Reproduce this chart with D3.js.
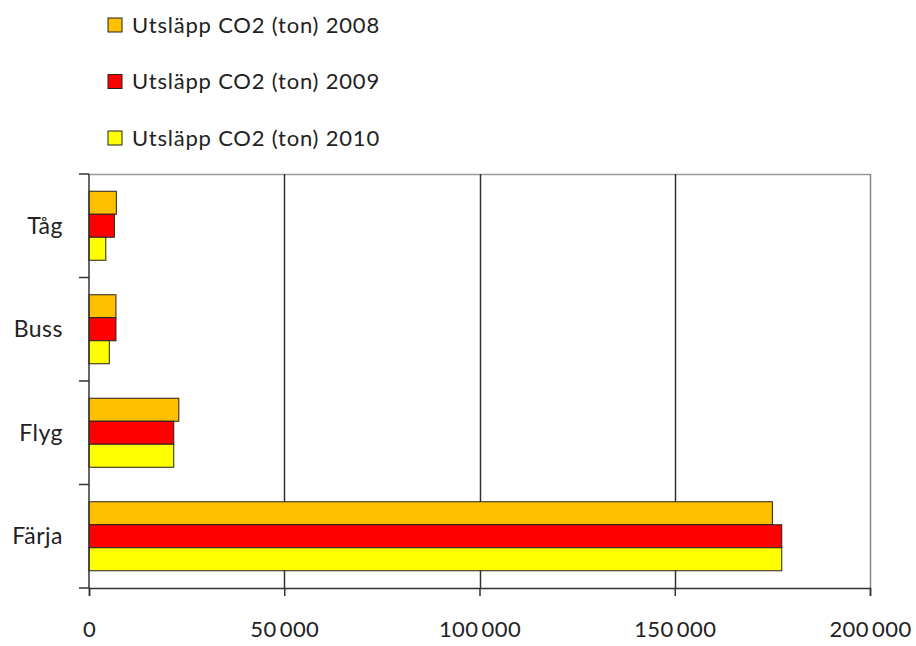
<!DOCTYPE html>
<html>
<head>
<meta charset="utf-8">
<script src="https://cdn.jsdelivr.net/npm/d3@7"></script>
<style>
  html, body { margin: 0; padding: 0; background: #fff; }
  svg { display: block; font-family: Lato, "Open Sans", sans-serif; }
</style>
</head>
<body>
<svg id="chart" width="916" height="646"></svg>
<script>
// Transport modes (top to bottom) and CO2 emissions in tonnes per year
const categories = ["Tåg", "Buss", "Flyg", "Färja"];
const seriesNames = ["Utsläpp CO2 (ton) 2008", "Utsläpp CO2 (ton) 2009", "Utsläpp CO2 (ton) 2010"];
const values2008 = [7000, 6900, 23000, 175000];
const values2009 = [6500, 6900, 21700, 177400];
const values2010 = [4300, 5200, 21700, 177400];
const xTicks = [0, 50000, 100000, 150000, 200000];
const seriesColors = ["#FFC000", "#FF0000", "#FFFF00"];

const seriesValues = [values2008, values2009, values2010];

const svg = d3.select("#chart");
const margin = { left: 89, right: 46, top: 174, bottom: 58 };
const W = 916, H = 646;
const plotW = W - margin.left - margin.right;
const plotH = H - margin.top - margin.bottom;

const x = d3.scaleLinear().domain([0, 200000]).range([margin.left, margin.left + plotW]);
const y = d3.scaleBand().domain(categories).range([margin.top, margin.top + plotH]).paddingInner(0).paddingOuter(0);
// Three touching bars per band, gap of 1.5 bar heights split above and below
const inner = d3.scaleBand().domain(d3.range(seriesNames.length))
  .range([0, y.bandwidth()]).paddingInner(0).paddingOuter(0.75);

// Plot-area frame (top edge)
svg.append("line")
  .attr("x1", x(0)).attr("x2", x(200000))
  .attr("y1", margin.top + 0.5).attr("y2", margin.top + 0.5)
  .attr("stroke", "#999").attr("stroke-width", 1.5);

// Vertical gridlines
svg.append("g").selectAll("line")
  .data(xTicks.slice(1))
  .join("line")
  .attr("x1", d => Math.round(x(d)) + 0.5).attr("x2", d => Math.round(x(d)) + 0.5)
  .attr("y1", margin.top).attr("y2", margin.top + plotH)
  .attr("stroke", (d, i) => i === xTicks.length - 2 ? "#888" : "#333")
  .attr("stroke-width", 1.5);

// Bars
const groups = svg.append("g").selectAll("g")
  .data(categories)
  .join("g")
  .attr("transform", d => `translate(0,${y(d)})`);

groups.selectAll("rect")
  .data((c, ci) => seriesValues.map((vals, si) => ({ si, v: vals[ci] })))
  .join("rect")
  .attr("x", x(0))
  .attr("y", d => inner(d.si))
  .attr("width", d => x(d.v) - x(0))
  .attr("height", inner.bandwidth())
  .attr("fill", d => seriesColors[d.si])
  .attr("stroke", "#222")
  .attr("stroke-width", 1);

// X axis
const xAxis = d3.axisBottom(x)
  .tickValues(xTicks)
  .tickSize(8)
  .tickPadding(25)
  .tickFormat(d => d3.format(",")(d).replace(/,/g, "\u2009"));
const gx = svg.append("g")
  .attr("transform", `translate(0,${margin.top + plotH})`)
  .call(xAxis);
gx.select(".domain").attr("stroke", "#333").attr("stroke-width", 1.5);
gx.selectAll(".tick line").attr("stroke", "#333").attr("stroke-width", 1.5);
gx.selectAll(".tick text").attr("font-size", 22).attr("fill", "#222")
  .attr("font-family", "Lato, sans-serif")
  .attr("letter-spacing", "0.4px");

// Y axis: ticks at category boundaries, labels centred in each band
const boundaries = categories.map(c => y(c)).concat([margin.top + plotH]);
const gy = svg.append("g");
gy.append("line")
  .attr("x1", x(0)).attr("x2", x(0))
  .attr("y1", margin.top).attr("y2", margin.top + plotH)
  .attr("stroke", "#333").attr("stroke-width", 1.5);
gy.selectAll("line.tick")
  .data(boundaries)
  .join("line")
  .attr("class", "tick")
  .attr("x1", x(0) - 10).attr("x2", x(0))
  .attr("y1", d => d).attr("y2", d => d)
  .attr("stroke", "#333").attr("stroke-width", 1.5);
gy.selectAll("text")
  .data(categories)
  .join("text")
  .attr("x", x(0) - 26)
  .attr("y", d => y(d) + y.bandwidth() / 2)
  .attr("dy", "0.35em")
  .attr("text-anchor", "end")
  .attr("font-size", 23)
  .attr("letter-spacing", "0.5px")
  .attr("fill", "#222")
  .text(d => d);

// Legend
const legend = svg.append("g").selectAll("g")
  .data(seriesNames)
  .join("g")
  .attr("transform", (d, i) => `translate(108,${18 + i * 56.5})`);
legend.append("rect")
  .attr("width", 14).attr("height", 14)
  .attr("fill", (d, i) => seriesColors[i])
  .attr("stroke", "#222").attr("stroke-width", 1);
legend.append("text")
  .attr("x", 24).attr("y", 7)
  .attr("dy", "0.36em")
  .attr("font-size", 22)
  .attr("letter-spacing", "0.8px")
  .attr("fill", "#222")
  .text(d => d);
</script>
</body>
</html>
